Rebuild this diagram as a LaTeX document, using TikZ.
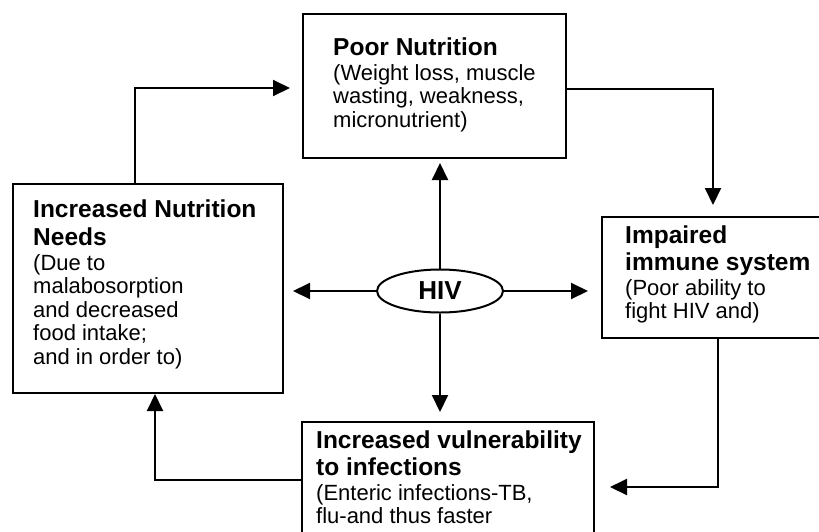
\documentclass[tikz,border=0pt]{standalone}
\usepackage{fontspec}
\setmainfont{Liberation Sans}
\usetikzlibrary{arrows.meta,shapes.geometric}
\newcommand{\boxtext}[2]{\parbox[t]{300pt}{\raggedright\setlength{\parskip}{0pt}%
\fontsize{24.5}{26}\selectfont\bfseries #1\par\vspace{1.5pt}%
\fontsize{22}{23.5}\selectfont\mdseries #2\par}}
\begin{document}
\begin{tikzpicture}[x=1pt,y=-1pt,
  boxnode/.style={draw=black,line width=2pt,rectangle,inner sep=0pt},
  txt/.style={anchor=base west,inner sep=0pt},
  arr/.style={line width=2pt,-{Triangle[length=17pt,width=16pt]}},
  plain/.style={line width=2pt}]
\useasboundingbox (0,0) rectangle (819,531);
\fill[white] (0,0) rectangle (819,531);
% boxes
\node[boxnode,minimum width=263pt,minimum height=144pt] (pn) at (434.5,86) {};
\node[boxnode,minimum width=270pt,minimum height=209pt] (inn) at (148,288.5) {};
\node[boxnode,minimum width=228pt,minimum height=121pt] (iis) at (716,277.5) {};
\node[boxnode,minimum width=292pt,minimum height=123pt] (iv) at (448,483.5) {};
\node[draw=black,line width=2pt,ellipse,inner sep=0pt,minimum width=126pt,minimum height=43pt,
  font=\fontsize{26}{28}\selectfont\bfseries] (hiv) at (440,291) {HIV};
% texts
\node[txt] (tpn) at (333,55) {\boxtext{Poor Nutrition}{(Weight loss, muscle\\ wasting, weakness,\\ micronutrient)}};
\node[txt] (tinn) at (33,217) {\boxtext{Increased Nutrition\\[2pt] Needs}{(Due to\\ malabosorption\\ and decreased\\ food intake;\\ and in order to)}};
\node[txt] (tiis) at (625,243) {\boxtext{Impaired\\[1pt] immune system}{(Poor ability to\\ fight HIV and)}};
\node[txt] (tiv) at (316,448) {\boxtext{Increased vulnerability\\[1pt] to infections}{(Enteric infections-TB,\\ flu-and thus faster}};
% connector coordinates
\coordinate (c1) at (135,88);  \coordinate (e1) at (290,88);
\coordinate (c2) at (713,89);  \coordinate (e2) at (713,205);
\coordinate (c3) at (718,487); \coordinate (e3) at (610,487);
\coordinate (c4) at (155,480);
\coordinate (e5) at (440,163); \coordinate (e6) at (293,291);
\coordinate (e7) at (588,291); \coordinate (e8) at (440,412);
% cycle connectors
\draw[arr] (c1 |- inn.north) -- (c1) -- (e1);
\draw[arr] (pn.east |- c2) -- (c2) -- (e2);
\draw[arr] (c3 |- iis.south) -- (c3) -- (e3);
\draw[arr] (iv.west |- c4) -- (c4) -- (c4 |- inn.south);
% HIV connectors
\draw[arr] (hiv.north) -- (e5);
\draw[arr] (hiv.west) -- (e6);
\draw[arr] (hiv.east) -- (e7);
\draw[arr] (hiv.south) -- (e8);
\end{tikzpicture}
\end{document}
